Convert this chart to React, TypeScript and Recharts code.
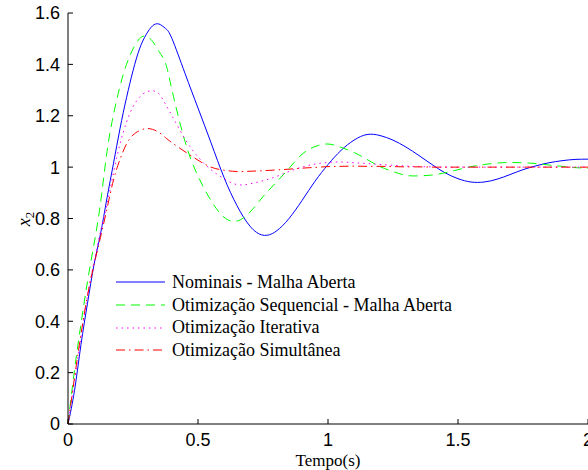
import { LineChart, Line, XAxis, YAxis, Legend, Label } from 'recharts'

// tempo (s)
const time = [
  0, 0.025, 0.05, 0.075, 0.1, 0.125, 0.15, 0.175, 0.2, 0.225, 0.25, 0.275, 0.3, 0.325, 0.35, 0.375, 0.4,
  0.45, 0.5, 0.55, 0.6, 0.65, 0.7, 0.75, 0.8, 0.85, 0.9, 0.95, 1.0, 1.05, 1.1, 1.15, 1.2, 1.25, 1.3,
  1.35, 1.4, 1.45, 1.5, 1.55, 1.6, 1.65, 1.7, 1.75, 1.8, 1.85, 1.9, 1.95, 2.0,
]

const nominais = [
  0, 0.13, 0.31, 0.47, 0.62, 0.74, 0.88, 1.015, 1.15, 1.27, 1.375, 1.46, 1.515, 1.55, 1.557, 1.54, 1.5,
  1.365, 1.23, 1.095, 0.96, 0.85, 0.77, 0.735, 0.75, 0.8, 0.87, 0.945, 1.01, 1.065, 1.105, 1.127, 1.123,
  1.105, 1.078, 1.045, 1.01, 0.978, 0.955, 0.942, 0.942, 0.953, 0.971, 0.99, 1.005, 1.017, 1.025, 1.03, 1.031,
]

const sequencial = [
  0, 0.21, 0.39, 0.555, 0.7, 0.86, 1.06, 1.205, 1.315, 1.4, 1.46, 1.5, 1.51, 1.49, 1.45, 1.405, 1.3,
  1.1, 0.965, 0.87, 0.805, 0.79, 0.825, 0.885, 0.94, 0.995, 1.05, 1.08, 1.09, 1.077, 1.057, 1.03, 1.002,
  0.983, 0.968, 0.966, 0.969, 0.978, 0.99, 1.002, 1.01, 1.016, 1.018, 1.017, 1.014, 1.008, 1.003, 0.998, 0.996,
]

const iterativa = [
  0, 0.17, 0.34, 0.5, 0.63, 0.75, 0.855, 0.98, 1.09, 1.175, 1.235, 1.272, 1.292, 1.297, 1.285, 1.245, 1.2,
  1.11, 1.04, 0.99, 0.955, 0.932, 0.935, 0.947, 0.963, 0.983, 1.0, 1.012, 1.018, 1.02, 1.017, 1.014, 1.01,
  1.007, 1.004, 1.002, 1.001, 1.0, 1.0, 1.0, 1.0, 1.0, 1.0, 1.0, 1.0, 1.0, 1.0, 1.0, 1.0,
]

const simultanea = [
  0, 0.18, 0.35, 0.5, 0.62, 0.727, 0.838, 0.95, 1.03, 1.09, 1.125, 1.142, 1.15, 1.147, 1.135, 1.115, 1.095,
  1.06, 1.027, 1.0, 0.988, 0.983, 0.984, 0.986, 0.989, 0.992, 0.996, 0.999, 1.002, 1.003, 1.004, 1.003, 1.003,
  1.002, 1.001, 1.001, 1.0, 1.0, 1.0, 1.0, 1.0, 1.0, 1.0, 1.0, 1.0, 1.0, 1.0, 1.0, 1.0,
]

const xTicks = [0, 0.5, 1, 1.5, 2]
const yTicks = [0, 0.2, 0.4, 0.6, 0.8, 1, 1.2, 1.4, 1.6]

const SERIES = [
  { key: 'nominais', name: 'Nominais - Malha Aberta', color: '#0000ff', dash: undefined },
  { key: 'sequencial', name: 'Otimização Sequencial - Malha Aberta', color: '#00ff00', dash: '9 6' },
  { key: 'iterativa', name: 'Otimização Iterativa', color: '#ff00ff', dash: '1.5 4' },
  { key: 'simultanea', name: 'Otimização Simultânea', color: '#ff0000', dash: '9 4 1.5 4' },
]

const data = time.map((t, i) => ({
  t,
  nominais: nominais[i],
  sequencial: sequencial[i],
  iterativa: iterativa[i],
  simultanea: simultanea[i],
}))

const tickStyle = { fill: '#000', fontSize: 18, fontFamily: 'Liberation Sans, Arial, sans-serif' }
const serif = 'Liberation Serif, Times New Roman, serif'

// legend keeps the plotting order (recharts sorts the payload by name)
function LegendBox() {
  return (
    <div style={{ fontFamily: serif, fontSize: 18, color: '#000', whiteSpace: 'nowrap' }}>
      {SERIES.map((s) => (
        <div key={s.key} style={{ display: 'flex', alignItems: 'center', height: 22.7 }}>
          <svg width={49} height={10} style={{ marginRight: 7 }}>
            <line x1={0} y1={5} x2={49} y2={5} stroke={s.color} strokeDasharray={s.dash} />
          </svg>
          <span>{s.name}</span>
        </div>
      ))}
    </div>
  )
}

function YTitle() {
  return (
    <text transform="rotate(-90)" x={-219} y={30} textAnchor="middle" fontFamily={serif} fontSize={18} fill="#000">
      <tspan fontStyle="italic">x</tspan>
      <tspan fontSize={13} dy={4}>2</tspan>
    </text>
  )
}

export default function App() {
  return (
    <div style={{ position: 'absolute', left: 0, top: 0, width: 588, height: 470, background: '#fff' }}>
      <LineChart width={588} height={470} data={data} margin={{ top: 13, right: 0, left: 0, bottom: 0 }}>
        <XAxis
          dataKey="t"
          type="number"
          domain={[0, 2]}
          ticks={xTicks}
          interval={0}
          height={46}
          tickSize={-5}
          tickMargin={14}
          tick={tickStyle}
          axisLine={{ stroke: '#000' }}
          tickLine={{ stroke: '#000' }}
        >
          <Label value="Tempo(s)" position="insideBottom" offset={4} style={{ fontFamily: serif, fontSize: 17, fill: '#000' }} />
        </XAxis>
        <XAxis
          xAxisId="top"
          orientation="top"
          dataKey="t"
          type="number"
          domain={[0, 2]}
          ticks={xTicks}
          height={0}
          tickSize={-5}
          tick={false}
          axisLine={{ stroke: '#000' }}
          tickLine={{ stroke: '#000' }}
        />
        <YAxis
          type="number"
          domain={[0, 1.6]}
          ticks={yTicks}
          interval={0}
          width={68}
          tickSize={-5}
          tickMargin={13}
          tick={tickStyle}
          axisLine={{ stroke: '#000' }}
          tickLine={{ stroke: '#000' }}
        >
          <Label content={() => <YTitle />} />
        </YAxis>
        <YAxis
          yAxisId="right"
          orientation="right"
          type="number"
          domain={[0, 1.6]}
          ticks={yTicks}
          width={0}
          tickSize={-5}
          tick={false}
          axisLine={{ stroke: '#000' }}
          tickLine={{ stroke: '#000' }}
        />
        <Legend
          layout="vertical"
          align="center"
          verticalAlign="middle"
          content={<LegendBox />}
          wrapperStyle={{ left: 116, top: 271, width: 'auto' }}
        />
        {SERIES.map((s) => (
          <Line
            key={s.key}
            dataKey={s.key}
            name={s.name}
            type="natural"
            stroke={s.color}
            strokeWidth={1}
            strokeDasharray={s.dash}
            dot={false}
            activeDot={false}
            isAnimationActive={false}
          />
        ))}
      </LineChart>
    </div>
  )
}
